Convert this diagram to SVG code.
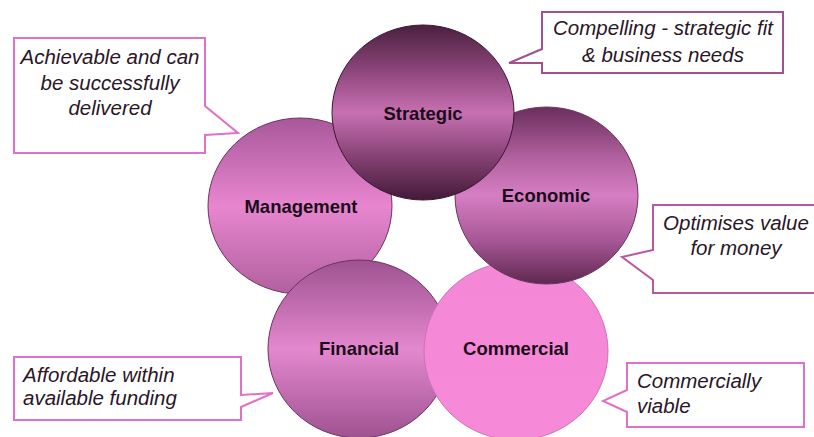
<svg xmlns="http://www.w3.org/2000/svg" width="814" height="437" viewBox="0 0 814 437">
<defs>
<linearGradient id="gStr" x1="0" y1="0" x2="0" y2="1">
<stop offset="0" stop-color="#4a2040"/>
<stop offset="0.25" stop-color="#8a4478"/>
<stop offset="0.5" stop-color="#c870b2"/>
<stop offset="0.75" stop-color="#864274"/>
<stop offset="1" stop-color="#431a38"/>
</linearGradient>
<linearGradient id="gEco" x1="0" y1="0" x2="0" y2="1">
<stop offset="0" stop-color="#6a2e5c"/>
<stop offset="0.28" stop-color="#b0609e"/>
<stop offset="0.5" stop-color="#d67ec4"/>
<stop offset="0.75" stop-color="#a85896"/>
<stop offset="1" stop-color="#5e284f"/>
</linearGradient>
<linearGradient id="gMan" x1="0" y1="0" x2="0" y2="1">
<stop offset="0" stop-color="#a8589a"/>
<stop offset="0.5" stop-color="#e886cf"/>
<stop offset="1" stop-color="#b0609f"/>
</linearGradient>
<linearGradient id="gFin" x1="0" y1="0" x2="0" y2="1">
<stop offset="0" stop-color="#9e5290"/>
<stop offset="0.5" stop-color="#e488cf"/>
<stop offset="1" stop-color="#9e5290"/>
</linearGradient>
<linearGradient id="gCom" x1="0" y1="0" x2="0" y2="1">
<stop offset="0" stop-color="#f488d6"/>
<stop offset="1" stop-color="#f68ad8"/>
</linearGradient>
</defs>
<style>
.node ellipse{stroke:#6a3460;stroke-width:1}
.lbl{font-family:"Liberation Sans",Arial,sans-serif;font-weight:bold;font-size:18.5px;fill:#1a0c18;text-anchor:middle}
.call path{fill:#ffffff;stroke:#e070c8;stroke-width:2;stroke-linejoin:miter}
.ct{font-family:"Liberation Sans",Arial,sans-serif;font-style:italic;font-size:20.5px;fill:#2a1628}
.mid{text-anchor:middle}
</style>
<g id="connectors">
<g class="call" id="call-management">
<path d="M14,38 H205 V106 L238,133 L205,135 V153 H14 Z"/>
<text class="ct mid" x="110" y="64">Achievable and can</text>
<text class="ct mid" x="110" y="90">be successfully</text>
<text class="ct mid" x="110" y="115">delivered</text>
</g>
<g class="call" id="call-strategic">
<path d="M542,12 H783 V73 H542 V63 L509,63 L542,49 Z" style="stroke:#a2508f"/>
<text class="ct mid" x="663" y="35">Compelling - strategic fit</text>
<text class="ct mid" x="663" y="62">&amp; business needs</text>
</g>
<g class="call" id="call-economic">
<path d="M653,205 H818 V293 H653 V280 L622,257 L653,250 Z" style="stroke:#b8589f"/>
<text class="ct mid" x="736" y="230">Optimises value</text>
<text class="ct mid" x="736" y="255">for money</text>
</g>
<g class="call" id="call-financial">
<path d="M14,357 H241 V395 L273,393 L241,407 V420 H14 Z"/>
<text class="ct" x="23" y="382">Affordable within</text>
<text class="ct" x="23" y="405">available funding</text>
</g>
<g class="call" id="call-commercial">
<path d="M627,363 H804 V427 H627 V412 L603,401 L627,390 Z"/>
<text class="ct" x="637" y="388">Commercially</text>
<text class="ct" x="637" y="413">viable</text>
</g>
</g>
<g class="node" id="management">
<ellipse cx="300" cy="206" rx="92" ry="88" fill="url(#gMan)"/>
<text class="lbl" x="301" y="213">Management</text>
</g>
<g class="node" id="financial">
<ellipse cx="359" cy="349" rx="91" ry="89" fill="url(#gFin)"/>
<text class="lbl" x="359" y="355">Financial</text>
</g>
<g class="node" id="commercial">
<ellipse cx="516" cy="351" rx="92" ry="89" fill="url(#gCom)" style="stroke:#d070b8"/>
<text class="lbl" x="516" y="355">Commercial</text>
</g>
<g class="node" id="economic">
<ellipse cx="546.5" cy="195.5" rx="91.5" ry="88.5" fill="url(#gEco)"/>
<text class="lbl" x="546" y="202">Economic</text>
</g>
<g class="node" id="strategic">
<ellipse cx="423" cy="112.5" rx="91" ry="87.5" fill="url(#gStr)" style="stroke:#3a1632"/>
<text class="lbl" x="423" y="120">Strategic</text>
</g>
</svg>
